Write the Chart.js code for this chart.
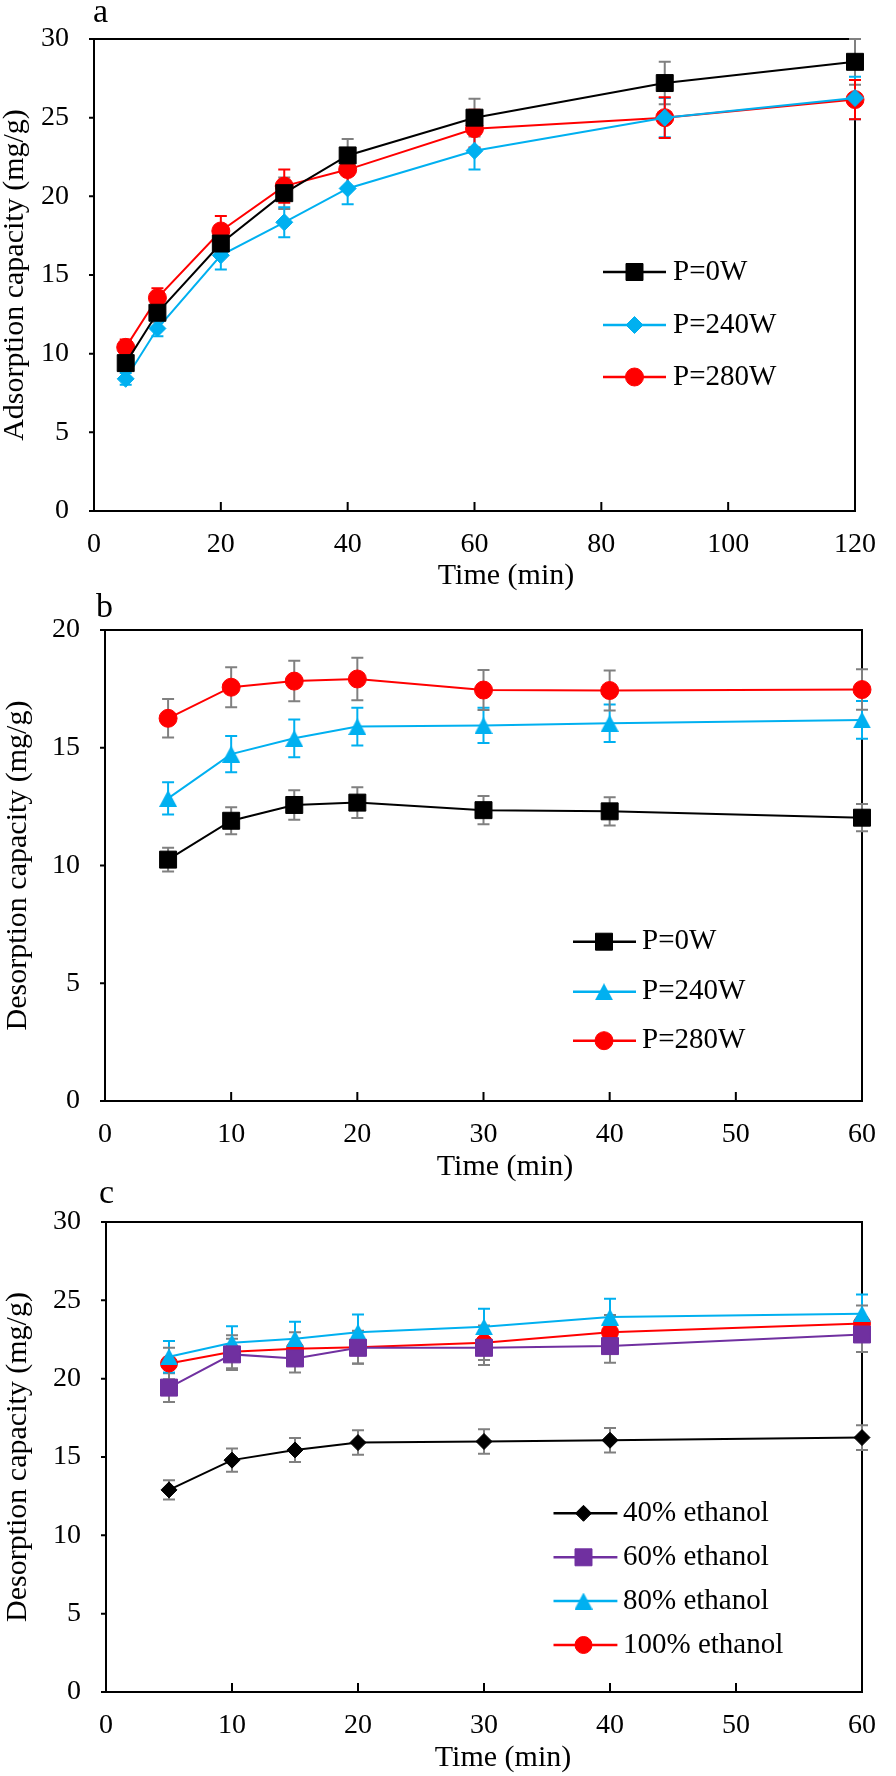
<!DOCTYPE html>
<html><head><meta charset="utf-8">
<script src="https://cdn.jsdelivr.net/npm/chart.js@4.4.1/dist/chart.umd.min.js"></script>
<style>
html,body{margin:0;padding:0;background:#fff;}
body{width:896px;height:1776px;position:relative;overflow:hidden;}
canvas{position:absolute;left:0;}
</style></head><body>
<canvas id="ca" width="896" height="595" style="top:0px"></canvas>
<canvas id="cb" width="896" height="605" style="top:580px"></canvas>
<canvas id="cc" width="896" height="596" style="top:1180px"></canvas>
<script>
// ---------- Data: panel a (adsorption) ----------
const timeA = [5, 10, 20, 30, 40, 60, 90, 120];
const adsP0W = [9.4, 12.6, 17.0, 20.2, 22.6, 25.0, 27.2, 28.55];
const adsP0WErr = [0.5, 0.6, 0.85, 1.0, 1.05, 1.2, 1.35, 1.45];
const adsP240W = [8.4, 11.6, 16.25, 18.35, 20.5, 22.9, 25.0, 26.25];
const adsP240WErr = [0.37, 0.5, 0.9, 0.95, 1.0, 1.2, 1.25, 1.35];
const adsP280W = [10.4, 13.55, 17.8, 20.65, 21.7, 24.3, 25.0, 26.15];
const adsP280WErr = [0.5, 0.6, 0.95, 1.05, 1.1, 1.2, 1.3, 1.25];
const xTicksA = [0, 20, 40, 60, 80, 100, 120];
const yTicksA = [0, 5, 10, 15, 20, 25, 30];

// ---------- Data: panel b (desorption vs power) ----------
const timeB = [5, 10, 15, 20, 30, 40, 60];
const desP0W = [10.25, 11.9, 12.57, 12.67, 12.35, 12.3, 12.03];
const desP0WErr = [0.5, 0.57, 0.63, 0.65, 0.6, 0.6, 0.58];
const desP240W = [12.85, 14.73, 15.4, 15.9, 15.95, 16.04, 16.18];
const desP240WErr = [0.68, 0.77, 0.8, 0.8, 0.75, 0.8, 0.8];
const desP280W = [16.25, 17.57, 17.83, 17.92, 17.45, 17.43, 17.47];
const desP280WErr = [0.82, 0.85, 0.86, 0.9, 0.85, 0.85, 0.86];
const xTicksB = [0, 10, 20, 30, 40, 50, 60];
const yTicksB = [0, 5, 10, 15, 20];

// ---------- Data: panel c (desorption vs ethanol) ----------
const timeC = [5, 10, 15, 20, 30, 40, 60];
const eth40 = [12.9, 14.8, 15.45, 15.92, 15.99, 16.07, 16.24];
const eth40Err = [0.62, 0.74, 0.77, 0.78, 0.78, 0.78, 0.79];
const eth60 = [19.43, 21.55, 21.29, 21.97, 21.97, 22.08, 22.82];
const eth60Err = [0.92, 1.0, 0.9, 1.0, 1.1, 1.06, 1.12];
const eth80 = [21.4, 22.29, 22.55, 22.97, 23.31, 23.93, 24.14];
const eth80Err = [1.0, 1.06, 1.08, 1.13, 1.15, 1.17, 1.23];
const eth100 = [20.97, 21.72, 21.91, 22.01, 22.29, 22.97, 23.52];
const eth100Err = [1.0, 1.05, 1.05, 1.05, 1.1, 1.1, 1.15];
const xTicksC = [0, 10, 20, 30, 40, 50, 60];
const yTicksC = [0, 5, 10, 15, 20, 25, 30];

const FONT = "'Liberation Serif', 'Times New Roman', Times, serif";
const C_BLACK = '#000000', C_BLUE = '#00B0F0', C_RED = '#FF0000', C_PURPLE = '#7030A0', C_GRAY = '#808080';

// triangle marker centred on its bounding box (Excel style)
function triangleStyle(color, w, h) {
  const c = document.createElement('canvas');
  c.width = w; c.height = h;
  const g = c.getContext('2d');
  g.fillStyle = color;
  g.beginPath(); g.moveTo(w / 2, 0); g.lineTo(w, h); g.lineTo(0, h); g.closePath(); g.fill();
  return c;
}

function drawMarker(ctx, style, r, x, y, color) {
  ctx.save();
  ctx.fillStyle = color; ctx.strokeStyle = color; ctx.lineWidth = 1;
  if (Chart.helpers && Chart.helpers.drawPoint) {
    Chart.helpers.drawPoint(ctx, {pointStyle: style, radius: r, rotation: 0, borderWidth: 1}, x, y);
  }
  ctx.restore();
}

function makePanelPlugin(cfg) {
  return {
    id: 'panel_' + cfg.id,
    beforeDatasetsDraw(chart) {
      const ctx = chart.ctx, a = chart.chartArea, xs = chart.scales.x, ys = chart.scales.y;
      ctx.save();
      ctx.strokeStyle = '#000'; ctx.lineWidth = 2;
      ctx.beginPath();
      xs.ticks.forEach(t => { const x = xs.getPixelForValue(t.value); ctx.moveTo(x, a.bottom); ctx.lineTo(x, a.bottom - 9); });
      ys.ticks.forEach(t => { const y = ys.getPixelForValue(t.value); ctx.moveTo(a.left, y); ctx.lineTo(a.left - 5, y); });
      ctx.stroke();
      ctx.strokeRect(a.left, a.top, a.right - a.left, a.bottom - a.top);
      // error bars
      chart.data.datasets.forEach(ds => {
        ctx.strokeStyle = ds.errColor; ctx.lineWidth = 2;
        ctx.beginPath();
        ds.data.forEach((p, i) => {
          const e = ds.errors[i];
          const x = xs.getPixelForValue(p.x);
          const y1 = ys.getPixelForValue(p.y + e), y2 = ys.getPixelForValue(p.y - e);
          ctx.moveTo(x, y1); ctx.lineTo(x, y2);
          ctx.moveTo(x - 6, y1); ctx.lineTo(x + 6, y1);
          ctx.moveTo(x - 6, y2); ctx.lineTo(x + 6, y2);
        });
        ctx.stroke();
      });
      ctx.restore();
    },
    afterDraw(chart) {
      const ctx = chart.ctx, L = cfg.legend;
      ctx.save();
      chart.data.datasets.forEach((ds, i) => {
        const y = L.rows[i];
        ctx.strokeStyle = ds.borderColor; ctx.lineWidth = 2.5;
        ctx.beginPath(); ctx.moveTo(L.x1, y); ctx.lineTo(L.x2, y); ctx.stroke();
        drawMarker(ctx, ds.pointStyle, ds.pointRadius, L.mx, y, ds.borderColor);
        ctx.fillStyle = '#000'; ctx.font = '29px ' + FONT;
        ctx.textAlign = 'left'; ctx.textBaseline = 'middle';
        ctx.fillText(ds.label, L.tx, y);
      });
      // x axis title
      ctx.fillStyle = '#000'; ctx.font = '30px ' + FONT;
      ctx.textAlign = 'center'; ctx.textBaseline = 'middle';
      ctx.fillText(cfg.xTitle.text, cfg.xTitle.x, cfg.xTitle.y);
      // panel letter
      ctx.font = '34px ' + FONT; ctx.textAlign = 'left'; ctx.textBaseline = 'alphabetic';
      ctx.fillText(cfg.letter.text, cfg.letter.x, cfg.letter.y);
      ctx.restore();
    }
  };
}

function makeChart(cfg) {
  const datasets = cfg.series.map(s => ({
    label: s.label,
    data: cfg.times.map((t, i) => ({x: t, y: s.values[i]})),
    errors: s.errors, errColor: s.errColor,
    borderColor: s.color, backgroundColor: s.color,
    pointBackgroundColor: s.color, pointBorderColor: s.color,
    pointStyle: s.pointStyle, pointRadius: s.radius, pointHoverRadius: s.radius,
    pointBorderWidth: 1, borderWidth: 2, tension: 0, clip: false, fill: false
  }));
  const W = 896;
  return new Chart(document.getElementById(cfg.id), {
    type: 'line',
    data: {datasets},
    options: {
      responsive: false, animation: false, events: [],
      layout: {padding: {top: cfg.area.top, right: W - cfg.area.right, left: 0, bottom: 0}},
      plugins: {legend: {display: false}, tooltip: {enabled: false}},
      scales: {
        x: {
          type: 'linear', position: 'bottom',
          min: cfg.xTicks[0], max: cfg.xTicks[cfg.xTicks.length - 1],
          afterBuildTicks: sc => { sc.ticks = cfg.xTicks.map(v => ({value: v})); },
          afterFit: sc => { sc.height = cfg.canvasH - cfg.area.bottom; },
          grid: {display: false, drawTicks: false, tickLength: 0},
          border: {display: false},
          ticks: {color: '#000', font: {family: FONT, size: 28, lineHeight: 1}, padding: 20, maxRotation: 0, autoSkip: false}
        },
        y: {
          type: 'linear', position: 'left',
          min: cfg.yTicks[0], max: cfg.yTicks[cfg.yTicks.length - 1],
          afterBuildTicks: sc => { sc.ticks = cfg.yTicks.map(v => ({value: v})); },
          afterFit: sc => { sc.width = cfg.area.left; },
          grid: {display: false, drawTicks: false, tickLength: 0},
          border: {display: false},
          ticks: {color: '#000', font: {family: FONT, size: 28, lineHeight: 1}, padding: 25, autoSkip: false},
          title: {display: true, text: cfg.yTitle, color: '#000', font: {family: FONT, size: 30, lineHeight: 1}, padding: {top: cfg.yTitlePad, bottom: 0}}
        }
      }
    },
    plugins: [makePanelPlugin(cfg)]
  });
}

const triBlue = triangleStyle(C_BLUE, 18, 17);

makeChart({
  id: 'ca', canvasH: 595,
  area: {left: 94, right: 868, top: 34, bottom: 511},
  times: timeA, xTicks: xTicksA, yTicks: yTicksA,
  yTitle: 'Adsorption capacity (mg/g)', yTitlePad: 0,
  xTitle: {text: 'Time (min)', x: 506, y: 576},
  letter: {text: 'a', x: 93, y: 21.5},
  legend: {x1: 603, x2: 666, mx: 634.5, tx: 673, rows: [272, 325, 377]},
  series: [
    {label: 'P=0W', values: adsP0W, errors: adsP0WErr, color: C_BLACK, errColor: C_GRAY, pointStyle: 'rect', radius: 12},
    {label: 'P=240W', values: adsP240W, errors: adsP240WErr, color: C_BLUE, errColor: C_BLUE, pointStyle: 'rectRot', radius: 8.5},
    {label: 'P=280W', values: adsP280W, errors: adsP280WErr, color: C_RED, errColor: C_RED, pointStyle: 'circle', radius: 9}
  ]
});

makeChart({
  id: 'cb', canvasH: 605,
  area: {left: 105, right: 881, top: 50, bottom: 521},
  times: timeB, xTicks: xTicksB, yTicks: yTicksB,
  yTitle: 'Desorption capacity (mg/g)', yTitlePad: 3,
  xTitle: {text: 'Time (min)', x: 505, y: 587.5},
  letter: {text: 'b', x: 96, y: 36.7},
  legend: {x1: 573, x2: 636, mx: 604, tx: 642, rows: [361.7, 411.7, 460.7]},
  series: [
    {label: 'P=0W', values: desP0W, errors: desP0WErr, color: C_BLACK, errColor: C_GRAY, pointStyle: 'rect', radius: 12},
    {label: 'P=240W', values: desP240W, errors: desP240WErr, color: C_BLUE, errColor: C_BLUE, pointStyle: triBlue, radius: 10},
    {label: 'P=280W', values: desP280W, errors: desP280WErr, color: C_RED, errColor: C_GRAY, pointStyle: 'circle', radius: 9}
  ]
});

makeChart({
  id: 'cc', canvasH: 596,
  area: {left: 106, right: 877, top: 42, bottom: 512},
  times: timeC, xTicks: xTicksC, yTicks: yTicksC,
  yTitle: 'Desorption capacity (mg/g)', yTitlePad: 3,
  xTitle: {text: 'Time (min)', x: 503, y: 577.8},
  letter: {text: 'c', x: 99, y: 23.3},
  legend: {x1: 553.5, x2: 617.4, mx: 583.5, tx: 623, rows: [333.3, 377.3, 421, 465]},
  series: [
    {label: '40% ethanol', values: eth40, errors: eth40Err, color: C_BLACK, errColor: C_GRAY, pointStyle: 'rectRot', radius: 8},
    {label: '60% ethanol', values: eth60, errors: eth60Err, color: C_PURPLE, errColor: C_GRAY, pointStyle: 'rect', radius: 12},
    {label: '80% ethanol', values: eth80, errors: eth80Err, color: C_BLUE, errColor: C_BLUE, pointStyle: triBlue, radius: 10},
    {label: '100% ethanol', values: eth100, errors: eth100Err, color: C_RED, errColor: C_GRAY, pointStyle: 'circle', radius: 8.5}
  ]
});
</script>
</body></html>
